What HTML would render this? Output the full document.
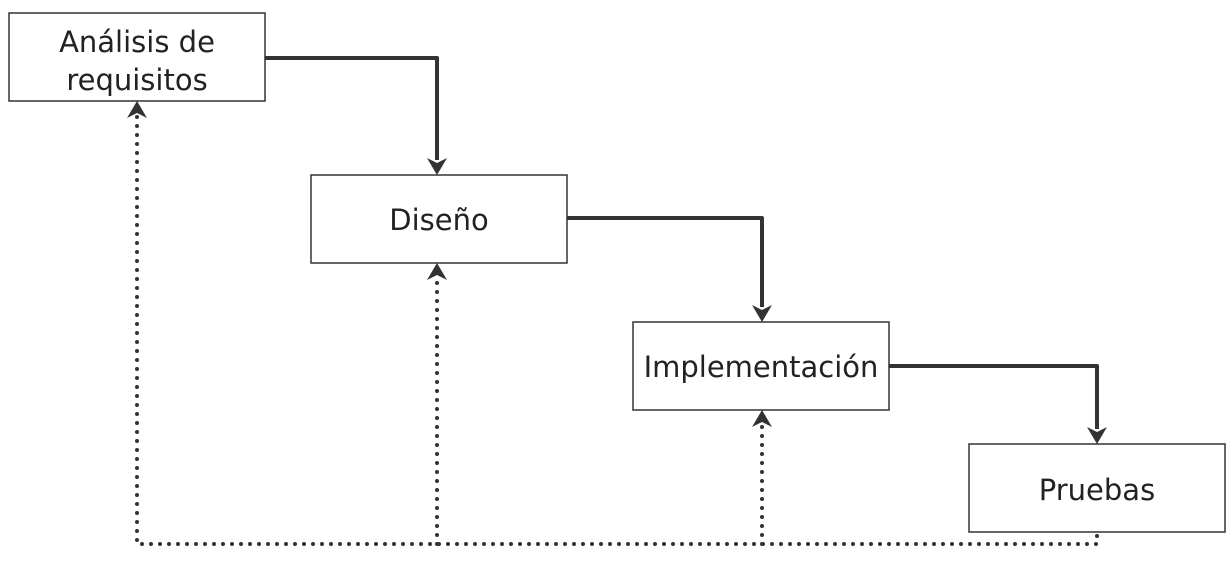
<!DOCTYPE html>
<html><head><meta charset="utf-8"><style>
html,body{margin:0;padding:0;background:#fff;width:1232px;height:568px;overflow:hidden}
</style></head><body>
<svg width="1232" height="568" xmlns="http://www.w3.org/2000/svg">
<g fill="none" stroke="#333" stroke-width="4" stroke-linejoin="round">
<path d="M265 58 H437 V160"/>
<path d="M567 218 H762 V307"/>
<path d="M889 366 H1097 V429"/>
</g>
<g fill="#333">
<path d="M427 158 L437 163 L447 158 L437 175 Z"/>
<path d="M752 305 L762 310 L772 305 L762 322 Z"/>
<path d="M1087 427 L1097 432 L1107 427 L1097 444 Z"/>
<path d="M127 118 L137 113 L147 118 L137 101 Z"/>
<path d="M427 280 L437 275 L447 280 L437 263 Z"/>
<path d="M752 427 L762 422 L772 427 L762 410 Z"/>
</g>
<g fill="none" stroke="#333" stroke-width="4" stroke-linecap="round" stroke-dasharray="0 9">
<path d="M1097 536 V544 H137 V116"/>
<path d="M437 544 V278"/>
<path d="M762 544 V425"/>
</g>
<g fill="#fff" stroke="#333" stroke-width="1.5">
<rect x="9" y="13" width="256" height="88"/>
<rect x="311" y="175" width="256" height="88"/>
<rect x="633" y="322" width="256" height="88"/>
<rect x="969" y="444" width="256" height="88"/>
</g>
<g font-family="DejaVu Sans, sans-serif" font-size="29" fill="#222" text-anchor="middle">
<text x="137" y="52">Análisis de</text>
<text x="137" y="90">requisitos</text>
<text x="439" y="230">Diseño</text>
<text x="761" y="377">Implementación</text>
<text x="1097" y="500">Pruebas</text>
</g>
</svg>
</body></html>
